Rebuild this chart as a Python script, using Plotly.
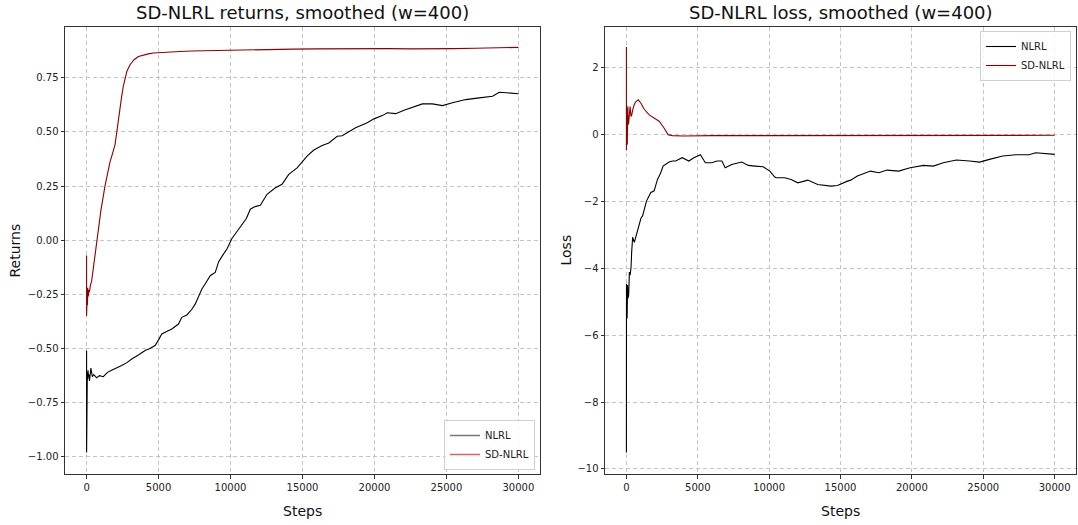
import plotly.graph_objects as go

# ---------------- data ----------------
ret_nlrl_x = [0, 0, 10, 20, 30, 45, 60, 80, 100, 130, 160, 200, 250, 300, 400, 500, 696, 900, 1160, 1450,
              1741, 2100, 2437, 2800, 3134, 3600, 4063, 4400, 4759, 5000, 5223, 5600, 5919, 6384, 6616, 6964,
              7300, 7544, 8009, 8300, 8590, 8938, 9170, 9450, 9750, 10098, 10450, 10794, 11100, 11375, 11700,
              12071, 12535, 13116, 13580, 14044, 14624, 15321, 15785, 16365, 16830, 17410, 17758, 18686, 19499,
              19964, 20544, 20892, 21473, 22053, 22633, 23329, 24026, 24722, 25419, 26347, 27276, 28204, 28668,
              29366, 30000]
ret_nlrl_y = [-0.51, -0.98, -0.62, -0.70, -0.60, -0.66, -0.61, -0.64, -0.60, -0.63, -0.62, -0.65, -0.60, -0.59,
              -0.63, -0.62, -0.635, -0.625, -0.63, -0.61, -0.60, -0.59, -0.578, -0.565, -0.548, -0.53, -0.509,
              -0.50, -0.486, -0.46, -0.433, -0.42, -0.41, -0.387, -0.356, -0.345, -0.32, -0.295, -0.225, -0.195,
              -0.164, -0.149, -0.10, -0.07, -0.041, 0.008, 0.04, 0.074, 0.10, 0.143, 0.155, 0.161, 0.212, 0.242,
              0.258, 0.304, 0.334, 0.388, 0.416, 0.437, 0.449, 0.48, 0.482, 0.519, 0.542, 0.56, 0.575, 0.588,
              0.584, 0.60, 0.613, 0.629, 0.629, 0.621, 0.634, 0.649, 0.657, 0.664, 0.683, 0.68, 0.676]

ret_sd_x = [0, 0, 10, 20, 40, 60, 80, 120, 160, 200, 260, 348, 466, 600, 813, 1000, 1277, 1450, 1625, 1800,
            1973, 2100, 2205, 2320, 2437, 2550, 2669, 2800, 3018, 3300, 3598, 4000, 4294, 4643, 5500, 6500,
            7312, 8500, 9518, 11000, 12500, 14393, 16000, 17500, 19268, 21000, 22500, 24025, 25500, 27000,
            28900, 30000]
ret_sd_y = [-0.07, -0.35, -0.30, -0.34, -0.25, -0.30, -0.22, -0.26, -0.23, -0.24, -0.21, -0.19, -0.13, -0.06,
            0.05, 0.14, 0.25, 0.31, 0.36, 0.40, 0.44, 0.50, 0.557, 0.61, 0.664, 0.71, 0.749, 0.78, 0.81, 0.833,
            0.848, 0.856, 0.86, 0.864, 0.868, 0.871, 0.873, 0.875, 0.876, 0.878, 0.882, 0.882, 0.883, 0.884,
            0.885, 0.884, 0.883, 0.882, 0.884, 0.886, 0.889, 0.890]

loss_nlrl_x = [0, 5, 15, 30, 50, 80, 110, 160, 208, 260, 326, 368, 437, 555, 674, 903, 1018, 1134, 1365, 1412,
               1713, 1944, 2176, 2407, 2569, 2986, 3217, 3449, 3912, 4375, 4722, 5185, 5532, 5648, 5995, 6342,
               6689, 6920, 7036, 7383, 8078, 8541, 9006, 9468, 9583, 10048, 10395, 10506, 11090, 11548, 12013,
               12708, 13402, 14328, 14791, 15485, 15716, 16180, 17104, 17687, 18263, 19075, 19881, 20811, 21506,
               22200, 23124, 24047, 24742, 25436, 26365, 27289, 28213, 28678, 29372, 30000]
loss_nlrl_y = [-9.51, -4.46, -5.9, -4.7, -5.5, -4.5, -4.9, -4.8, -4.11, -4.2, -3.96, -3.52, -3.07, -3.22, -3.02,
               -2.62, -2.5, -2.43, -2.05, -1.98, -1.73, -1.68, -1.34, -1.14, -0.94, -0.82, -0.79, -0.79, -0.69,
               -0.79, -0.69, -0.60, -0.84, -0.84, -0.84, -0.79, -0.79, -0.99, -0.97, -0.89, -0.82, -0.92, -0.94,
               -0.94, -0.96, -1.09, -1.27, -1.29, -1.29, -1.34, -1.44, -1.36, -1.49, -1.54, -1.52, -1.39, -1.36,
               -1.24, -1.09, -1.14, -1.06, -1.09, -0.99, -0.92, -0.94, -0.84, -0.76, -0.79, -0.82, -0.74, -0.64,
               -0.60, -0.60, -0.54, -0.57, -0.59]

loss_sd_x = [0, 0, 0, 30, 60, 100, 130, 160, 200, 257, 324, 380, 440, 550, 671, 833, 1018, 1250, 1597, 2060,
             2291, 2639, 2917, 3217, 4000, 6000, 8000, 10000, 12000, 14000, 16000, 18000, 20000, 22000, 24000,
             26000, 28000, 30000]
loss_sd_y = [1.6, 2.62, -0.47, 0.8, -0.3, 0.85, 0.3, 0.35, 0.7, 0.84, 0.54, 0.6, 0.74, 0.9, 0.99, 1.04, 0.94,
             0.76, 0.59, 0.47, 0.40, 0.20, 0.0, -0.03, -0.04, -0.03, -0.03, -0.03, -0.04, -0.04, -0.03, -0.04,
             -0.03, -0.04, -0.04, -0.03, -0.03, -0.02]

x_ticks = [0, 5000, 10000, 15000, 20000, 25000, 30000]
ret_ticks = [-1.0, -0.75, -0.5, -0.25, 0.0, 0.25, 0.5, 0.75]
loss_ticks = [-10, -8, -6, -4, -2, 0, 2]

titles = ["SD-NLRL returns, smoothed (w=400)", "SD-NLRL loss, smoothed (w=400)"]
names = ["NLRL", "SD-NLRL"]

# ---------------- styling ----------------
BLACK = "#000000"
RED = "#8b0000"
FONT = "DejaVu Sans, Liberation Sans, sans-serif"
W, H = 1078, 525
OFF = 0  # body margin removed by post_script


def px(xp):
    return (xp - OFF) / W


def py(yp):
    return 1 - (yp - OFF) / H


def fmt(v, dec):
    s = f"{abs(v):.{dec}f}"
    return ("\u2212" + s) if v < 0 else s


fig = go.Figure()

fig.add_trace(go.Scatter(x=ret_nlrl_x, y=ret_nlrl_y, mode="lines", line=dict(color=BLACK, width=1.1),
                         xaxis="x", yaxis="y", showlegend=False, name=names[0]))
fig.add_trace(go.Scatter(x=ret_sd_x, y=ret_sd_y, mode="lines", line=dict(color=RED, width=1.1),
                         xaxis="x", yaxis="y", showlegend=False, name=names[1]))
fig.add_trace(go.Scatter(x=[None], y=[None], mode="lines", line=dict(color="#777777", width=1.5),
                         xaxis="x", yaxis="y", name=names[0], legend="legend"))
fig.add_trace(go.Scatter(x=[None], y=[None], mode="lines", line=dict(color="#c46a6a", width=1.5),
                         xaxis="x", yaxis="y", name=names[1], legend="legend"))

fig.add_trace(go.Scatter(x=loss_nlrl_x, y=loss_nlrl_y, mode="lines", line=dict(color=BLACK, width=1.1),
                         xaxis="x2", yaxis="y2", name=names[0], legend="legend2"))
fig.add_trace(go.Scatter(x=loss_sd_x, y=loss_sd_y, mode="lines", line=dict(color=RED, width=1.1),
                         xaxis="x2", yaxis="y2", name=names[1], legend="legend2"))

axis_common = dict(showline=True, linecolor="#333333", linewidth=1, mirror=True, ticks="outside",
                   ticklen=3.5, tickwidth=1, tickcolor="#333333", showgrid=True, gridcolor="#c4c4c4",
                   griddash="4px,3px", gridwidth=1, zeroline=False,
                   tickfont=dict(family=FONT, size=10, color="#222222"))

ydom = [py(474), py(27)]
lx0, lx1 = 65, 540
rx0, rx1 = 605, 1076
fig.update_layout(
    width=W, height=H, margin=dict(l=0, r=0, t=0, b=0),
    plot_bgcolor="white", paper_bgcolor="white",
    font=dict(family=FONT, color="#222222"),
    xaxis=dict(domain=[px(lx0), px(lx1)], range=[-1500, 31500], tickvals=x_ticks,
               ticktext=[str(v) for v in x_ticks], anchor="y", **axis_common),
    yaxis=dict(domain=ydom, range=[-1.079, 0.984], tickvals=ret_ticks,
               ticktext=[fmt(v, 2) for v in ret_ticks], anchor="x", **axis_common),
    xaxis2=dict(domain=[px(rx0), px(rx1)], range=[-1500, 31500], tickvals=x_ticks,
                ticktext=[str(v) for v in x_ticks], anchor="y2", **axis_common),
    yaxis2=dict(domain=ydom, range=[-10.15, 3.22], tickvals=loss_ticks,
                ticktext=[fmt(v, 0) for v in loss_ticks], anchor="x2", **axis_common),
    legend=dict(x=px(535), y=py(470), xanchor="right", yanchor="bottom",
                bgcolor="rgba(255,255,255,0.8)", bordercolor="#d0d0d0", borderwidth=1,
                font=dict(family=FONT, size=10, color="#222222"), itemwidth=30, tracegroupgap=0),
    legend2=dict(x=px(1071), y=py(31), xanchor="right", yanchor="top",
                 bgcolor="rgba(255,255,255,0.8)", bordercolor="#d0d0d0", borderwidth=1,
                 font=dict(family=FONT, size=10, color="#222222"), itemwidth=30, tracegroupgap=0),
    annotations=[
        dict(text=titles[0], x=px((lx0 + lx1) / 2), y=py(12), xref="paper", yref="paper",
             showarrow=False, font=dict(family=FONT, size=18, color="#111111"),
             xanchor="center", yanchor="middle"),
        dict(text=titles[1], x=px((rx0 + rx1) / 2), y=py(12), xref="paper", yref="paper",
             showarrow=False, font=dict(family=FONT, size=18, color="#111111"),
             xanchor="center", yanchor="middle"),
        dict(text="Steps", x=px((lx0 + lx1) / 2), y=py(511), xref="paper", yref="paper",
             showarrow=False, font=dict(family=FONT, size=14, color="#111111"),
             xanchor="center", yanchor="middle"),
        dict(text="Steps", x=px((rx0 + rx1) / 2), y=py(511), xref="paper", yref="paper",
             showarrow=False, font=dict(family=FONT, size=14, color="#111111"),
             xanchor="center", yanchor="middle"),
        dict(text="Returns", x=px(15), y=py((27 + 474) / 2), xref="paper", yref="paper", textangle=-90,
             showarrow=False, font=dict(family=FONT, size=14, color="#111111"),
             xanchor="center", yanchor="middle"),
        dict(text="Loss", x=px(566), y=py((27 + 474) / 2), xref="paper", yref="paper", textangle=-90,
             showarrow=False, font=dict(family=FONT, size=14, color="#111111"),
             xanchor="center", yanchor="middle"),
    ],
)

fig.write_html("out.html", config={"displayModeBar": False},
               post_script="document.body.style.margin='0';")
